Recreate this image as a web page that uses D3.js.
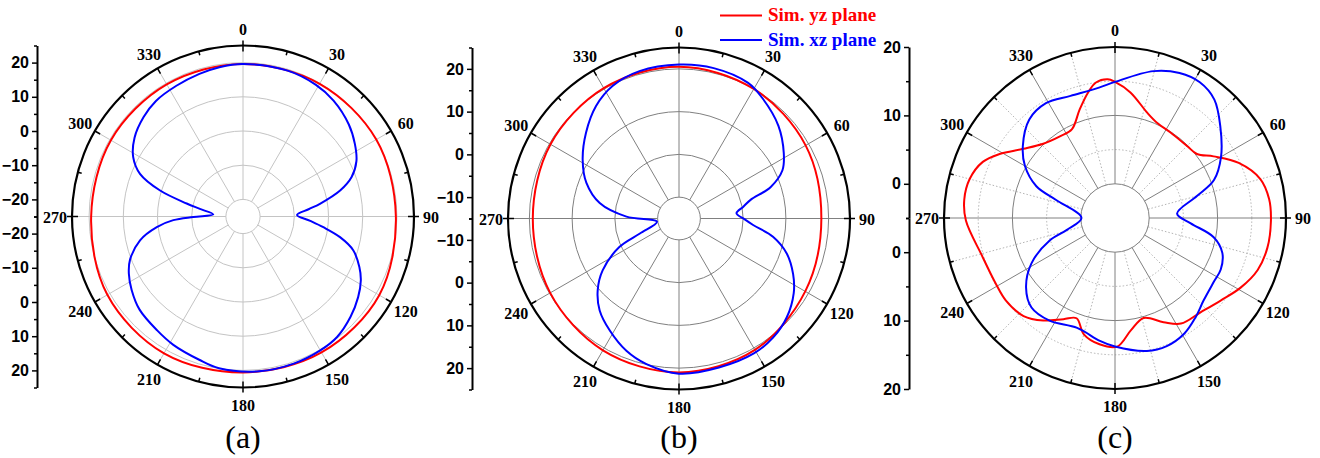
<!DOCTYPE html>
<html>
<head>
<meta charset="utf-8">
<script src="https://cdn.jsdelivr.net/npm/d3@7"></script>
<style>
body { margin: 0; background: #fff; }
svg { display: block; font-family: "Liberation Serif", "Times New Roman", serif; }
.rad text { font-weight: bold; font-size: 16px; fill: #000; }
.ang text { font-weight: bold; font-size: 16px; }
</style>
</head>
<body>
<svg id="chart" width="1320" height="458"></svg>
<script>
// angular tick labels
var angleTicks = [0, 30, 60, 90, 120, 150, 180, 210, 240, 270, 300, 330];
var panelLabels = ["(a)", "(b)", "(c)"];
var legendLabels = ["Sim. yz plane", "Sim. xz plane"];

// (a) [angle deg, gain dB]
var aYz = [[0,19.6],[30,19.8],[60,20.0],[90,19.7],[120,21.0],[150,20.9],[180,20.6],
	[210,21.2],[240,20.8],[270,19.4],[300,19.6],[330,19.6]];
var aXz = [[0,19.6],[17,19.6],[29,19.0],[38,18.0],[49,16.0],[57,14.0],[64,11.9],[70,8.8],
	[75,4.4],[80.6,-2.2],[83.7,-5.7],[88.4,-9.2],[93.7,-5.3],[97.6,-1.3],[102,4.0],[107,8.7],
	[113.5,12.1],[118.5,14.2],[125,16.1],[133,18.0],[142,19.7],[150,20.2],[161,20.5],[174,20.5],
	[189,19.9],[197,18.8],[208.5,17.7],[217,16.7],[228,15.7],[236.6,14.0],[243.5,12.3],[249,10.4],
	[257,5.9],[263,0.4],[267,-4.6],[269.5,-10.5],[274,-16.3],[280,-12.2],[283,-8.1],[287.4,0.4],
	[292.5,7.6],[298.4,11.5],[306,14.2],[315,16.1],[323,17.3],[333,17.9],[343,18.6],[351,19.2]];

// (b)
var bYz = [[0,20.5],[30,20.0],[60,19.2],[90,18.3],[120,19.1],[150,20.5],[180,21.0],
	[210,20.6],[240,19.8],[270,19.2],[300,19.7],[330,20.2]];
var bXz = [[0,21.0],[13,21.1],[27,20.6],[35,19.2],[47,16.8],[58,13.9],[65,11.7],[71,7.7],
	[75.4,2.3],[79.6,0.3],[84.8,-1.5],[90.6,0.3],[95,2.4],[101,7.4],[108,11.5],[116,14.7],
	[123,17.0],[132.5,19.2],[141.6,20.5],[151,21.1],[165,21.1],[180,21.3],[192.6,19.9],
	[201.7,18.3],[211.7,15.8],[220.8,13.4],[228.5,10.4],[235.8,6.6],[244.5,0.4],[249,-5.2],
	[261.6,-9.8],[272,-2.7],[281,3.9],[291,8.2],[301.4,11.4],[312.7,14.6],[323.6,17.7],
	[333.5,19.7],[345,20.7]];

// (c)
var cYz = [[0,14.9],[7,13.5],[17,11.1],[24,10.2],[33,9.9],[45,9.9],[52,10.2],[58,12.0],
	[66,14.8],[75,17.0],[83,17.7],[91,17.8],[101,17.7],[110,17.2],[119,16.0],[128,14.6],
	[138,13.6],[148,13.2],[155,11.8],[164,10.2],[172,11.6],[179,13.8],[187,13.6],[195,12.6],
	[201,10.7],[207,11.6],[215,13.3],[223,14.6],[233,15.0],[241,14.9],[254,15.2],[269,16.8],
	[277,17.2],[285,17.0],[293,16.0],[299,14.3],[307,11.8],[316,10.1],[326,9.4],[334,9.4],
	[342,11.7],[348,13.8],[352,15.0],[357,15.3]];
var cXz = [[0,14.9],[14.7,17.2],[24,18.2],[32,18.4],[40,17.6],[49,15.4],[60,12.9],[69,10.5],
	[75,7.4],[86,4.1],[94,6.1],[101,9.7],[108,11.5],[116,12.2],[123,12.2],[133,12.7],[141,13.7],
	[149,14.7],[158,15.2],[166.5,15.0],[180,13.8],[187,13.1],[199,12.0],[212.5,12.8],[223,12.9],
	[232,11.5],[241.5,8.9],[251,5.1],[256,2.3],[270,-0.1],[287,4.0],[292,7.4],[300,10.2],
	[308,12.1],[319,14.1],[329,14.6],[340,14.0],[353,14.2]];

var panels = [
	{ cx: 243, cy: 216.5, R: 171, domain: [-25, 25], axisX: 37, major: [-20, -10, 0, 10, 20],
	  minor: [-25, -15, -5, 5, 15, 25], grid: [-20, -10, 0, 10, 20], dotted: [], inner: -20,
	  gridColor: "#c4c4c4", dotSpokes: false, yz: aYz, xz: aXz, label: panelLabels[0] },
	{ cx: 679, cy: 218.5, R: 171, domain: [-15, 25], axisX: 472, major: [-10, 0, 10, 20],
	  minor: [-15, -5, 5, 15, 25], grid: [-10, 0, 10, 20], dotted: [], inner: -10,
	  gridColor: "#808080", dotSpokes: false, yz: bYz, xz: bXz, label: panelLabels[1] },
	{ cx: 1115, cy: 218, R: 171, domain: [-5, 20], axisX: 909, major: [0, 10, 20],
	  minor: [-5, 5, 15], grid: [0, 10], dotted: [5, 15], inner: 0,
	  gridColor: "#808080", dotSpokes: true, yz: cYz, xz: cXz, label: panelLabels[2] }
];

var svg = d3.select("#chart");
var ang = d3.scaleLinear().domain([0, 360]).range([0, 2 * Math.PI]);

function polar(a, rr) {
	var t = ang(a);
	return [rr * Math.sin(t), -rr * Math.cos(t)];
}

function drawPanel(p) {
	var r = d3.scaleLinear().domain(p.domain).range([0, p.R]);
	var g = svg.append("g").attr("transform", "translate(" + p.cx + "," + p.cy + ")");

	// dotted minor grid
	g.selectAll("circle.dot").data(p.dotted).join("circle")
		.attr("r", function(d) { return r(d); })
		.attr("fill", "none").attr("stroke", "#b4b4b4")
		.attr("stroke-width", 1).attr("stroke-dasharray", "1.5,2");
	if (p.dotSpokes) {
		g.selectAll("line.dot").data(angleTicks.map(function(a) { return a + 15; })).join("line")
			.attr("x1", function(d) { return polar(d, r(p.inner))[0]; })
			.attr("y1", function(d) { return polar(d, r(p.inner))[1]; })
			.attr("x2", function(d) { return polar(d, p.R)[0]; })
			.attr("y2", function(d) { return polar(d, p.R)[1]; })
			.attr("stroke", "#b4b4b4").attr("stroke-width", 1).attr("stroke-dasharray", "1.5,2");
	}

	// major grid
	g.selectAll("circle.grid").data(p.grid).join("circle")
		.attr("r", function(d) { return r(d); })
		.attr("fill", "none").attr("stroke", p.gridColor).attr("stroke-width", 1);
	g.selectAll("line.spoke").data(angleTicks).join("line")
		.attr("x1", function(d) { return polar(d, r(p.inner))[0]; })
		.attr("y1", function(d) { return polar(d, r(p.inner))[1]; })
		.attr("x2", function(d) { return polar(d, p.R)[0]; })
		.attr("y2", function(d) { return polar(d, p.R)[1]; })
		.attr("stroke", p.gridColor).attr("stroke-width", 1);

	// curves
	var line = d3.lineRadial()
		.angle(function(d) { return ang(d[0]); })
		.radius(function(d) { return r(d[1]); })
		.curve(d3.curveCatmullRomClosed.alpha(0.5));
	g.append("path").datum(p.yz).attr("d", line)
		.attr("fill", "none").attr("stroke", "#ff0000").attr("stroke-width", 2);
	g.append("path").datum(p.xz).attr("d", line)
		.attr("fill", "none").attr("stroke", "#0000ff").attr("stroke-width", 2);

	// outer frame
	g.append("circle").attr("r", p.R).attr("fill", "none")
		.attr("stroke", "#000").attr("stroke-width", 2.2);

	var at = g.append("g").attr("class", "ang");
	at.selectAll("line.maj").data(angleTicks).join("line")
		.attr("x1", function(d) { return polar(d, p.R - 6)[0]; })
		.attr("y1", function(d) { return polar(d, p.R - 6)[1]; })
		.attr("x2", function(d) { var o = d % 90 === 0 ? 5 : 0; return polar(d, p.R + o)[0]; })
		.attr("y2", function(d) { var o = d % 90 === 0 ? 5 : 0; return polar(d, p.R + o)[1]; })
		.attr("stroke", "#000").attr("stroke-width", 1.5);
	at.selectAll("line.min").data(angleTicks.map(function(a) { return a + 15; })).join("line")
		.attr("x1", function(d) { return polar(d, p.R - 4)[0]; })
		.attr("y1", function(d) { return polar(d, p.R - 4)[1]; })
		.attr("x2", function(d) { return polar(d, p.R)[0]; })
		.attr("y2", function(d) { return polar(d, p.R)[1]; })
		.attr("stroke", "#000").attr("stroke-width", 1.5);
	at.selectAll("text").data(angleTicks).join("text")
		.attr("x", function(d) { return polar(d, p.R + 17)[0]; })
		.attr("y", function(d) { return polar(d, p.R + 17)[1] + 0.5; })
		.attr("text-anchor", "middle").attr("dy", "0.35em")
		.text(function(d) { return d; });

	// radial axis, mirrored about the centre
	var yUp = d3.scaleLinear().domain(p.domain).range([p.cy, p.cy - p.R]);
	var yDn = d3.scaleLinear().domain(p.domain).range([p.cy, p.cy + p.R]);
	[yUp, yDn].forEach(function(sc) {
		var ax = svg.append("g").attr("class", "rad")
			.attr("transform", "translate(" + p.axisX + ",0)")
			.call(d3.axisLeft(sc).tickValues(p.major).tickSize(5).tickSizeOuter(0).tickPadding(3));
		ax.select(".domain").attr("stroke-width", 2);
		ax.selectAll(".tick line").attr("stroke-width", 1.5);
		var mn = svg.append("g").attr("class", "rad")
			.attr("transform", "translate(" + p.axisX + ",0)")
			.call(d3.axisLeft(sc).tickValues(p.minor).tickSize(3).tickSizeOuter(0).tickFormat(""));
		mn.select(".domain").remove();
		mn.selectAll(".tick line").attr("stroke-width", 1.5);
	});

	svg.append("text").attr("x", p.cx).attr("y", 448)
		.attr("text-anchor", "middle").attr("font-size", 32)
		.text(p.label);
}

panels.forEach(drawPanel);

// legend
var legColors = ["#ff0000", "#0000ff"];
var leg = svg.append("g").attr("transform", "translate(720,15.5)");
legendLabels.forEach(function(t, i) {
	leg.append("line").attr("x1", 0).attr("x2", 42).attr("y1", i * 24.5).attr("y2", i * 24.5)
		.attr("stroke", legColors[i]).attr("stroke-width", 2);
	leg.append("text").attr("x", 48).attr("y", i * 24.5 + 5.5)
		.attr("font-size", 19).attr("font-weight", "bold").attr("fill", legColors[i])
		.text(t);
});
</script>
</body>
</html>
